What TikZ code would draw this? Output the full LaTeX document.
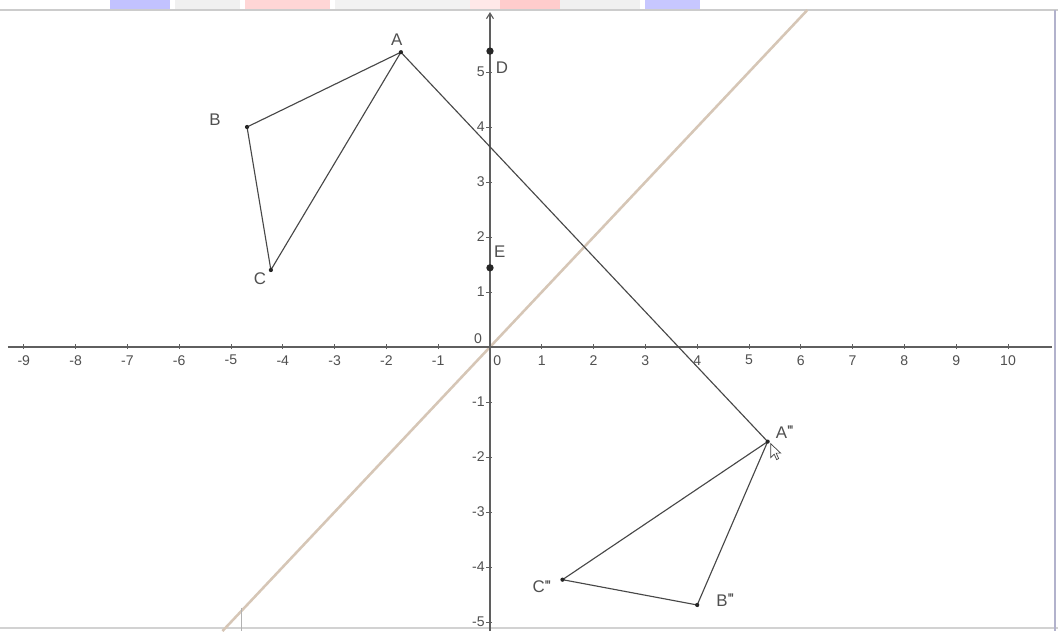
\documentclass[tikz,border=0pt]{standalone}
\usepackage{fontspec}
\setmainfont{Liberation Sans}
\usetikzlibrary{arrows.meta}
\definecolor{mirrorline}{RGB}{214,198,182}
\definecolor{axisgray}{RGB}{95,95,95}
\definecolor{txtgray}{RGB}{80,80,80}
\newcommand{\tprime}{\raisebox{0.15ex}{\fontsize{11}{12}\selectfont\textquotesingle\kern-0.08em\textquotesingle\kern-0.08em\textquotesingle}}

\begin{document}
\begin{tikzpicture}[x=1.295cm,y=1.375cm,
  every node/.style={font=\fontsize{10}{12}\selectfont,text=txtgray,inner sep=1pt},
  axis/.style={draw=axisgray,line width=0.8pt},
  tickmark/.style={draw=axisgray,line width=0.6pt},
  seg/.style={draw=black!72,line width=0.8pt},
  mirror/.style={draw=mirrorline,line width=1.8pt},
  dot/.style={fill=black!85},
  ptlabel/.style={font=\fontsize{12}{14}\selectfont,text=txtgray}
]
  % canvas and frame
  \useasboundingbox (-9.459,-5.164) rectangle (10.965,6.309);
  \fill[white] (-9.459,-5.164) rectangle (10.965,6.309);
  \foreach \a/\b/\c in {110/170/blue!24,175/240/gray!12,245/330/red!16,335/470/gray!10,
                        470/500/red!9,500/560/red!20,560/640/gray!12,645/700/blue!22}
    \fill[\c] ({(\a-490)/51.8},6.309) rectangle ({(\b-490)/51.8},6.127);
  \draw[gray!40,line width=0.8pt] (-9.459,6.127) -- (10.965,6.127);
  \draw[gray!35,line width=0.8pt] (-9.459,-5.109) -- (10.965,-5.109);
  \draw[blue!20!gray!50,line width=1.2pt] (10.907,6.127) -- (10.907,-5.164);

  % mirror line y = x
  \draw[mirror] (-5.164,-5.164) -- (6.127,6.127);
  \draw[gray!60,line width=0.5pt] (-4.807,-4.745) -- (-4.807,-5.164);

  % axes
  \draw[axis] (-9.305,0) -- (10.85,0);
  \draw[axis,-{Straight Barb[length=4pt,width=5pt]}] (0,-5.164) -- (0,6.09);
  \foreach \i in {-9,...,-1,1,2,...,10} {
    \draw[tickmark] (\i,-0.04) -- (\i,0.05);
    \node at (\i,-0.24) {\i};
  }
  \foreach \j in {-5,...,-1,1,2,...,5} {
    \draw[tickmark] (-0.07,\j) -- (0.03,\j);
    \node[anchor=east] at (-0.07,\j) {\j};
  }
  \node at (0.14,-0.24) {0};
  \node at (-0.23,0.16) {0};

  % points
  \coordinate (A) at (-1.72,5.36);
  \coordinate (B) at (-4.69,4.00);
  \coordinate (C) at (-4.23,1.40);
  \coordinate (D) at (0,5.38);
  \coordinate (E) at (0,1.44);
  \coordinate (A3) at (5.36,-1.72);
  \coordinate (B3) at (4.00,-4.69);
  \coordinate (C3) at (1.40,-4.23);

  \draw[seg] (A) -- (B) -- (C) -- cycle;
  \draw[seg] (A3) -- (B3) -- (C3) -- cycle;
  \draw[seg] (A) -- (A3);

  \foreach \p in {A,B,C,A3,B3,C3} \fill[dot] (\p) circle (1.5pt);
  \foreach \p in {D,E} \fill[dot] (\p) circle (2.6pt);

  % labels
  \node[ptlabel] (lA) at (-1.80,5.58) {A};
  \node[ptlabel] (lB) at (-5.31,4.13) {B};
  \node[ptlabel] (lC) at (-4.44,1.24) {C};
  \node[ptlabel] (lD) at (0.23,5.07) {D};
  \node[ptlabel] (lE) at (0.19,1.73) {E};
  \node[ptlabel] (lA3) at (5.69,-1.55) {A\tprime};
  \node[ptlabel] (lB3) at (4.54,-4.60) {B\tprime};
  \node[ptlabel] (lC3) at (1.00,-4.36) {C\tprime};

  % mouse pointer
  \begin{scope}[shift={(A3)},x=0.025cm,y=-0.025cm]
    \filldraw[fill=white,draw=black!75,line width=0.5pt]
      (3,2) -- (3,16) -- (6.5,12.5) -- (9,18) -- (11,17) -- (8.5,11.5) -- (13,11.5) -- cycle;
  \end{scope}
\end{tikzpicture}
\end{document}
